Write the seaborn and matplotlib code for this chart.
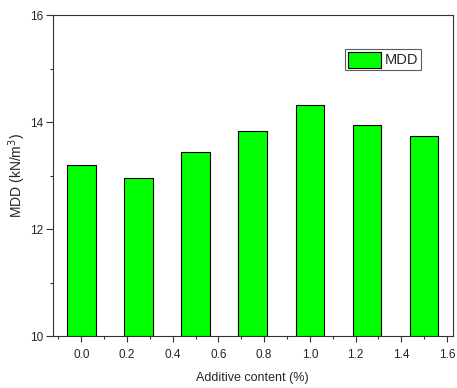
import numpy as np
import pandas as pd
import matplotlib
matplotlib.use('Agg')
import matplotlib.pyplot as plt
import seaborn as sns
from matplotlib.patches import Patch

# data
groups = ['1', '2', '3', '4', '5', '6', '7']
mdd = [13.19, 12.95, 13.44, 13.83, 14.32, 13.94, 13.73]
tick_labels = ['0.0', '0.2', '0.4', '0.6', '0.8', '1.0', '1.2', '1.4', '1.6']

df = pd.DataFrame({'Group': groups, 'MDD': mdd})

sns.set_style('white')
plt.rcParams['font.family'] = ['Liberation Sans', 'DejaVu Sans']

fig = plt.figure(figsize=(4.57, 3.88), dpi=100)
ax = fig.add_axes([0.1153, 0.134, 0.8753, 0.8273])

sns.barplot(x='Group', y='MDD', data=df, color='#00ff00', saturation=1,
            width=0.5, edgecolor='black', linewidth=0.8, ax=ax)

ax.set_ylim(10, 16)
ax.set_xlim(-0.5, 6.5)
ax.set_yticks([10, 12, 14, 16])
ax.set_yticks([11, 13, 15], minor=True)

# Origin-style x axis: labels on a separate scale
pos = [4 * float(t) for t in tick_labels]
ax.set_xticks(pos)
ax.set_xticklabels(tick_labels)
ax.set_xticks([p + 0.4 for p in pos[:-1]] + [-0.4], minor=True)

ax.tick_params(axis='both', which='major', direction='out', length=4,
               width=0.8, labelsize=8.5, color='#333333', bottom=True, left=True)
ax.tick_params(axis='x', which='major', pad=5)
ax.tick_params(axis='y', which='major', length=5, pad=2)
ax.tick_params(axis='both', which='minor', direction='out', length=2,
               width=0.8, color='#333333', bottom=True, left=True)
for s in ax.spines.values():
    s.set_color('#333333')
    s.set_linewidth(0.8)

ax.set_xlabel('Additive content (%)', fontsize=9, labelpad=8)
ax.set_ylabel('MDD (kN/m$^3$)', fontsize=10, labelpad=1)

handles = [Patch(facecolor='#00ff00', edgecolor='black', linewidth=0.8, label='MDD')]
leg = ax.legend(handles=handles, loc='upper right', bbox_to_anchor=(0.92, 0.895),
                fontsize=10.5, frameon=True, fancybox=False, handlelength=2.3,
                handleheight=1.3, handletextpad=0.2, borderpad=0.2,
                borderaxespad=0)
leg.get_frame().set_edgecolor('#333333')
leg.get_frame().set_linewidth(0.8)

plt.savefig('out.png', dpi=100)
